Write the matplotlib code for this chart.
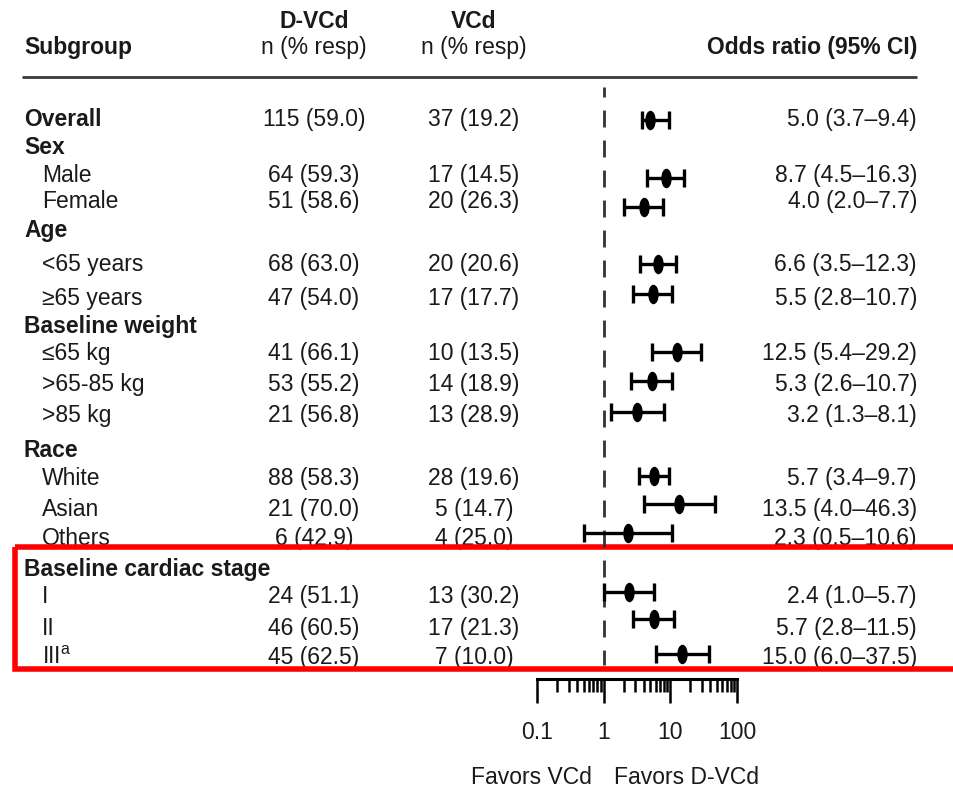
import matplotlib
matplotlib.use("Agg")
import matplotlib.pyplot as plt
from matplotlib.path import Path
from matplotlib.patches import Rectangle
from matplotlib.ticker import FixedLocator, FixedFormatter, LogLocator, NullFormatter
import numpy as np

plt.rcParams['font.family'] = ['Liberation Sans', 'DejaVu Sans']
plt.rcParams['mathtext.fontset'] = 'custom'
plt.rcParams['mathtext.rm'] = 'Liberation Sans'
plt.rcParams['lines.scale_dashes'] = False

# ---------------- data ----------------
subgroups = ["Overall", "Sex", "Male", "Female", "Age", "<65 years", "\u226565 years",
             "Baseline weight", "\u226465 kg", ">65-85 kg", ">85 kg",
             "Race", "White", "Asian", "Others",
             "Baseline cardiac stage", "I", "II", "III$^{\\mathrm{a}}$"]
is_header = [True, True, False, False, True, False, False,
             True, False, False, False,
             True, False, False, False,
             True, False, False, False]
dvcd_n = ["115 (59.0)", "", "64 (59.3)", "51 (58.6)", "", "68 (63.0)", "47 (54.0)",
          "", "41 (66.1)", "53 (55.2)", "21 (56.8)",
          "", "88 (58.3)", "21 (70.0)", "6 (42.9)",
          "", "24 (51.1)", "46 (60.5)", "45 (62.5)"]
vcd_n = ["37 (19.2)", "", "17 (14.5)", "20 (26.3)", "", "20 (20.6)", "17 (17.7)",
         "", "10 (13.5)", "14 (18.9)", "13 (28.9)",
         "", "28 (19.6)", "5 (14.7)", "4 (25.0)",
         "", "13 (30.2)", "17 (21.3)", "7 (10.0)"]
odds = [5.0, 8.7, 4.0, 6.6, 5.5, 12.5, 5.3, 3.2, 5.7, 13.5, 2.3, 2.4, 5.7, 15.0]
ci_lo = [3.7, 4.5, 2.0, 3.5, 2.8, 5.4, 2.6, 1.3, 3.4, 4.0, 0.5, 1.0, 2.8, 6.0]
ci_hi = [9.4, 16.3, 7.7, 12.3, 10.7, 29.2, 10.7, 8.1, 9.7, 46.3, 10.6, 5.7, 11.5, 37.5]
axis_ticks = [0.1, 1, 10, 100]
axis_tick_labels = ["0.1", "1", "10", "100"]

# ---------------- layout (pixel coordinates, y from top) ----------------
W, H = 954, 789
FS = 16.5
TXT = '#1a1a1a'
text_y = [118, 146, 174, 200, 229, 263, 297, 325, 352, 383, 414, 449, 477, 508, 537,
          568, 595, 627, 656]
marker_y = [120, 178, 207, 264, 294, 352, 381, 412, 476, 504, 533, 592, 619, 654]
BASE = 8  # cap-centre to baseline offset (px)

fig = plt.figure(figsize=(W / 100, H / 100), dpi=100)
ax0 = fig.add_axes([0, 0, 1, 1])
ax0.set_xlim(0, W)
ax0.set_ylim(H, 0)
ax0.axis('off')

# headers
ax0.text(24, 46 + BASE, "Subgroup", fontsize=FS, fontweight='bold', color=TXT, va='baseline', ha='left')
ax0.text(314, 20 + BASE, "D-VCd", fontsize=FS, fontweight='bold', color=TXT, va='baseline', ha='center')
ax0.text(314, 46 + BASE, "n (% resp)", fontsize=FS, color=TXT, va='baseline', ha='center')
ax0.text(474, 20 + BASE, "VCd", fontsize=FS, fontweight='bold', color=TXT, va='baseline', ha='center')
ax0.text(474, 46 + BASE, "n (% resp)", fontsize=FS, color=TXT, va='baseline', ha='center')
ax0.text(917, 46 + BASE, "Odds ratio (95% CI)", fontsize=FS, fontweight='bold', color=TXT,
         va='baseline', ha='right')
ax0.plot([22, 917], [77, 77], color='#3a3a3a', lw=2.0, solid_capstyle='butt')

or_rows = [i for i, d in enumerate(dvcd_n) if d]
for i, lab in enumerate(subgroups):
    y = text_y[i] + BASE
    if is_header[i]:
        ax0.text(24, y, lab, fontsize=FS, fontweight='bold', color=TXT, va='baseline')
    else:
        ax0.text(42, y, lab, fontsize=FS, color=TXT, va='baseline')
    if dvcd_n[i]:
        ax0.text(314, y, dvcd_n[i], fontsize=FS, color=TXT, va='baseline', ha='center')
        ax0.text(474, y, vcd_n[i], fontsize=FS, color=TXT, va='baseline', ha='center')
for k, i in enumerate(or_rows):
    s = f"{odds[k]:.1f} ({ci_lo[k]:.1f}\u2013{ci_hi[k]:.1f})"
    ax0.text(917, text_y[i] + BASE, s, fontsize=FS, color=TXT, va='baseline', ha='right')

ax0.text(592, 776 + BASE, "Favors VCd", fontsize=FS, color=TXT, va='baseline', ha='right')
ax0.text(614, 776 + BASE, "Favors D-VCd", fontsize=FS, color=TXT, va='baseline', ha='left')

# forest axes
ax = fig.add_axes([537 / W, 0, 200 / W, 1])
ax.set_xscale('log')
ax.set_xlim(0.1, 100)
ax.set_ylim(H, 0)
ax.patch.set_alpha(0)
for sp in ['left', 'right', 'top']:
    ax.spines[sp].set_visible(False)
ax.spines['bottom'].set_position(('data', 679))
ax.spines['bottom'].set_linewidth(2.2)
ax.spines['bottom'].set_color('black')
ax.yaxis.set_visible(False)
ax.xaxis.set_major_locator(FixedLocator(axis_ticks))
ax.xaxis.set_major_formatter(FixedFormatter(axis_tick_labels))
ax.xaxis.set_minor_locator(LogLocator(base=10, subs=np.arange(2, 10), numticks=20))
ax.xaxis.set_minor_formatter(NullFormatter())
ax.tick_params(axis='x', which='major', direction='out', length=17.3, width=1.8, pad=13,
               labelsize=FS, labelcolor=TXT, color='black')
ax.tick_params(axis='x', which='minor', direction='out', length=9.4, width=1.8, color='black')

ax.plot([1, 1], [87, 665], color='#333333', lw=2.0, linestyle=(5, (12.2, 9.4)),
        solid_capstyle='butt', dash_capstyle='butt', clip_on=False)

xerr = [np.subtract(odds, ci_lo), np.subtract(ci_hi, odds)]
ax.errorbar(odds, marker_y, xerr=xerr, fmt='none', ecolor='black', elinewidth=2.4,
            capsize=6.8, capthick=2.4, clip_on=False)
circ = Path.unit_circle()
ell = Path(circ.vertices * np.array([0.5, 1.0]), circ.codes)
ax.plot(odds, marker_y, linestyle='none', marker=ell, markersize=13, color='black',
        clip_on=False, zorder=5)

# highlight box
ax0.add_patch(Rectangle((15.5, 547), 955.5 - 15.5, 669 - 547, fill=False, ec='#ff0000',
                        lw=4.0, zorder=10, clip_on=False))

fig.savefig('out.png', dpi=100)
